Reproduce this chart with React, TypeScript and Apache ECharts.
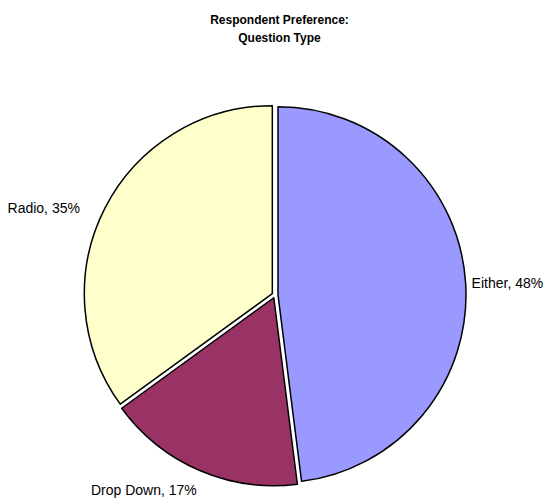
import React, { useEffect, useRef } from "react";
import * as echarts from "echarts";

// Survey result: which question type respondents prefer
const categories = ["Either", "Drop Down", "Radio"];
const shares = [48, 17, 35];
const colors = ["#9999FF", "#993366", "#FFFFCC"];

// Per-slice leader lengths so the labels sit where they read best
const leadLengths = [1, 21, 1];
const leadLengths2 = [0, 0, 19];
const labelGaps = [5, -6, 5];

export default function App() {
  const ref = useRef<HTMLDivElement>(null);

  useEffect(() => {
    if (!ref.current) return;
    const chart = echarts.init(ref.current, undefined, { renderer: "svg" });

    const data = categories.map((name, i) => ({
      name,
      value: shares[i],
      selected: true,
      itemStyle: { color: colors[i] },
      label: { distanceToLabelLine: labelGaps[i] },
      labelLine: { show: false, length: leadLengths[i], length2: leadLengths2[i] },
    }));

    chart.setOption({
      animation: false,
      backgroundColor: "#ffffff",
      title: {
        text: "Respondent Preference:\nQuestion Type",
        left: "center",
        top: 6,
        textStyle: {
          fontFamily: "Arial, 'Liberation Sans', sans-serif",
          fontSize: 12,
          fontWeight: "bold",
          color: "#000",
          lineHeight: 18,
        },
      },
      series: [
        {
          type: "pie",
          center: [275, 295],
          radius: 188,
          startAngle: 90,
          clockwise: true,
          selectedMode: "multiple",
          selectedOffset: 3,
          avoidLabelOverlap: false,
          percentPrecision: 0,
          emphasis: { disabled: true },
          itemStyle: { borderColor: "#000", borderWidth: 1.5 },
          label: {
            show: true,
            position: "outside",
            formatter: "{b}, {d}%",
            fontFamily: "Arial, 'Liberation Sans', sans-serif",
            fontSize: 14,
            color: "#000",
          },
          labelLine: { show: false },
          data,
        },
      ],
    });

    return () => chart.dispose();
  }, []);

  return (
    <div
      ref={ref}
      style={{ position: "fixed", left: 0, top: 0, width: 559, height: 502 }}
    />
  );
}
